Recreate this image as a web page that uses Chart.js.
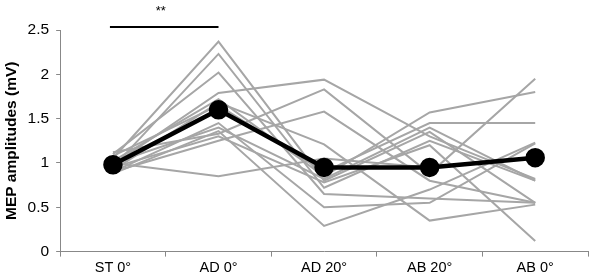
<!DOCTYPE html>
<html>
<head>
<meta charset="utf-8">
<script src="https://cdn.jsdelivr.net/npm/chart.js@4/dist/chart.umd.min.js"></script>
<style>
  body { margin: 0; background: #fff; }
  #wrap { width: 600px; height: 280px; }
</style>
</head>
<body>
<div id="wrap"><canvas id="myChart"></canvas></div>
<script>
const labels = ['ST 0°', 'AD 0°', 'AD 20°', 'AB 20°', 'AB 0°'];

// individual subjects (ST 0°, AD 0°, AD 20°, AB 20°, AB 0°)
const s1 = [1.05, 2.37, 0.80, 1.35, 0.55];
const s2 = [0.95, 2.23, 0.72, 1.25, 0.80];
const s3 = [1.10, 2.02, 0.65, 0.60, 0.55];
const s4 = [0.98, 1.79, 1.94, 1.30, 0.82];
const s5 = [1.02, 1.72, 0.85, 1.57, 1.80];
const s6 = [0.92, 1.68, 1.21, 0.35, 0.53];
const s7 = [1.08, 1.65, 0.90, 1.45, 1.45];
const s8 = [0.90, 1.45, 0.50, 0.55, 1.22];
const s9 = [1.00, 1.40, 0.82, 1.40, 0.80];
const s10 = [0.88, 1.36, 0.29, 0.70, 1.23];
const s11 = [1.12, 1.33, 1.83, 0.88, 1.95];
const s12 = [0.95, 1.30, 0.78, 1.20, 0.12];
const s13 = [0.90, 1.25, 1.58, 0.80, 0.55];
const s14 = [1.00, 0.85, 1.05, 0.95, 1.06];
const subjects = [s1, s2, s3, s4, s5, s6, s7, s8, s9, s10, s11, s12, s13, s14];

const meanValues = [0.98, 1.60, 0.95, 0.95, 1.06];
const yTicks = [0, 0.5, 1, 1.5, 2, 2.5];

// significance bracket between ST 0° and AD 0°
const sigFrom = 0;
const sigTo = 1;
const sigLevel = 2.535;
const sigText = '**';

const datasets = [{
  data: meanValues,
  borderColor: '#000',
  backgroundColor: '#000',
  borderWidth: 4.5,
  pointRadius: 7.5,
  pointHoverRadius: 7.5,
  tension: 0,
  order: 0
}];
subjects.forEach(s => {
  datasets.push({
    data: s,
    borderColor: '#a6a6a6',
    borderWidth: 2,
    pointRadius: 0,
    tension: 0,
    order: 1
  });
});

const sigPlugin = {
  id: 'sig',
  afterDraw(chart) {
    const ctx = chart.ctx;
    const x = chart.scales.x, y = chart.scales.y;
    const x1 = x.getPixelForValue(sigFrom), x2 = x.getPixelForValue(sigTo);
    const yy = y.getPixelForValue(sigLevel);
    ctx.save();
    ctx.strokeStyle = '#000';
    ctx.lineWidth = 2;
    ctx.beginPath();
    ctx.moveTo(x1 - 3, yy);
    ctx.lineTo(x2, yy);
    ctx.stroke();
    ctx.fillStyle = '#000';
    ctx.font = '13px "Liberation Sans", Arial, sans-serif';
    ctx.textAlign = 'center';
    ctx.textBaseline = 'middle';
    ctx.fillText(sigText, (x1 + x2) / 2 - 5, yy - 15);
    ctx.restore();
  }
};

var ctx = document.getElementById('myChart').getContext('2d');
new Chart(ctx, {
  type: 'line',
  data: { labels: labels, datasets: datasets },
  options: {
    responsive: true,
    maintainAspectRatio: false,
    animation: false,
    layout: { padding: { top: 30, right: 5, left: 2, bottom: 0 } },
    plugins: { legend: { display: false }, tooltip: { enabled: false } },
    scales: {
      x: {
        offset: true,
        grid: { display: true, drawOnChartArea: false, offset: true, color: '#888', tickLength: 5 },
        border: { color: '#888', width: 1 },
        ticks: { color: '#000', font: { family: '"Liberation Sans", Arial', size: 14.5 }, padding: 3 }
      },
      y: {
        min: 0,
        max: 2.5,
        afterBuildTicks: axis => { axis.ticks = yTicks.map(v => ({ value: v })); },
        grid: { display: true, drawOnChartArea: false, color: '#888', tickLength: 4 },
        border: { color: '#888', width: 1 },
        ticks: {
          color: '#000',
          font: { family: '"Liberation Sans", Arial', size: 15.5 },
          padding: 7,
          callback: v => String(v)
        },
        title: {
          display: true,
          text: 'MEP amplitudes (mV)',
          color: '#000',
          font: { family: '"Liberation Sans", Arial', size: 15.5, weight: 'bold' },
          padding: { top: 0, bottom: 0 }
        }
      }
    }
  },
  plugins: [sigPlugin]
});
</script>
</body>
</html>
